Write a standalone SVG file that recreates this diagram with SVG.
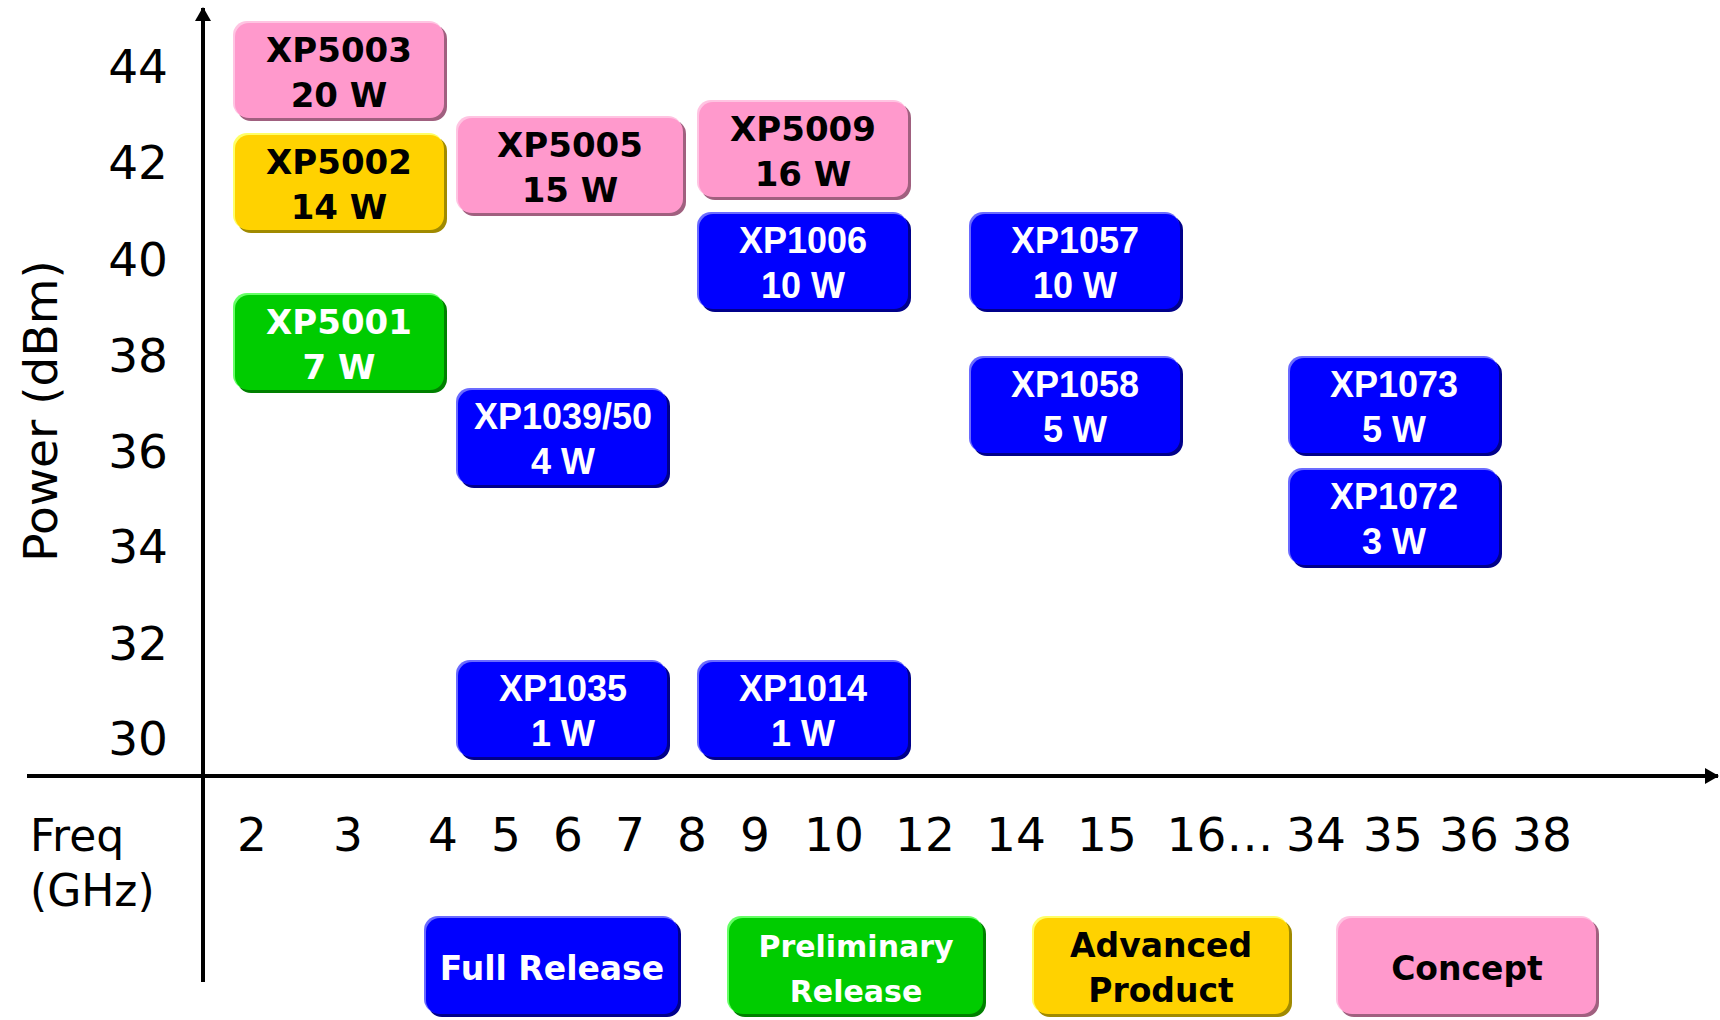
<svg xmlns="http://www.w3.org/2000/svg" width="1720" height="1020" viewBox="0 0 1720 1020">
<style>
.ax{stroke:#000;stroke-width:4;fill:none}
.lab{font-family:"DejaVu Sans",sans-serif;font-size:47px;fill:#000}
.bt{font-family:"DejaVu Sans",sans-serif;font-weight:bold;font-size:34px;text-anchor:middle}
.blue .bt{font-family:"Liberation Sans",Arial,sans-serif;font-size:36px}
.w{fill:#fff}.k{fill:#000}
.blue .m{fill:#0000ff}.blue .h{fill:#6b6bff}.blue .s{fill:#00008a}
.pink .m{fill:#ff99cc}.pink .h{fill:#ffc4e2}.pink .s{fill:#a0607f}
.yel .m{fill:#ffd200}.yel .h{fill:#ffff66}.yel .s{fill:#a08a00}
.grn .m{fill:#00cc00}.grn .h{fill:#66ff66}.grn .s{fill:#008000}
#legend-full .bt{font-family:"DejaVu Sans",sans-serif;font-size:33px}
#legend-prelim .bt{font-size:30px}
#legend-adv .bt,#legend-concept .bt{font-size:33px}
</style>
<defs>
<marker id="ah" viewBox="0 0 14 16" refX="13" refY="8" markerWidth="14" markerHeight="16" orient="auto" markerUnits="userSpaceOnUse"><path d="M0,0 L14,8 L0,16 z" fill="#000"/></marker>
</defs>
<rect width="1720" height="1020" fill="#fff"/>

<g id="connectors">
<line class="ax" x1="203" y1="982" x2="203" y2="8" marker-end="url(#ah)"/>
<line class="ax" x1="27" y1="776" x2="1718" y2="776" marker-end="url(#ah)"/>
</g>

<g id="y-labels" class="lab" text-anchor="end">
<text x="168" y="83">44</text>
<text x="168" y="179">42</text>
<text x="168" y="276">40</text>
<text x="168" y="372">38</text>
<text x="168" y="468">36</text>
<text x="168" y="563">34</text>
<text x="168" y="660">32</text>
<text x="168" y="755">30</text>
</g>
<text class="lab" font-size="48" text-anchor="middle" transform="translate(57,411) rotate(-90)">Power (dBm)</text>

<g id="x-labels" class="lab" text-anchor="middle">
<text x="30" y="851" text-anchor="start" font-size="44">Freq</text>
<text x="30" y="906" text-anchor="start" font-size="44">(GHz)</text>
<text x="252" y="851">2</text>
<text x="348" y="851">3</text>
<text x="443" y="851">4</text>
<text x="506" y="851">5</text>
<text x="568" y="851">6</text>
<text x="630" y="851">7</text>
<text x="692" y="851">8</text>
<text x="755" y="851">9</text>
<text x="834" y="851">10</text>
<text x="925" y="851">12</text>
<text x="1016" y="851">14</text>
<text x="1107" y="851">15</text>
<text x="1220" y="851">16…</text>
<text x="1316" y="851">34</text>
<text x="1393" y="851">35</text>
<text x="1469" y="851">36</text>
<text x="1542" y="851">38</text>
</g>

<g id="XP5003" class="pink">
<rect class="s" x="237" y="25" width="210" height="96" rx="14"/>
<rect class="h" x="233" y="21" width="210" height="96" rx="14"/>
<rect class="m" x="235" y="23" width="209" height="95" rx="14"/>
<text class="bt k" x="339" y="62">XP5003</text><text class="bt k" x="339" y="107">20 W</text>
</g>
<g id="XP5002" class="yel">
<rect class="s" x="237" y="137" width="210" height="96" rx="14"/>
<rect class="h" x="233" y="133" width="210" height="96" rx="14"/>
<rect class="m" x="235" y="135" width="209" height="95" rx="14"/>
<text class="bt k" x="339" y="174">XP5002</text><text class="bt k" x="339" y="219">14 W</text>
</g>
<g id="XP5001" class="grn">
<rect class="s" x="237" y="297" width="210" height="96" rx="14"/>
<rect class="h" x="233" y="293" width="210" height="96" rx="14"/>
<rect class="m" x="235" y="295" width="209" height="95" rx="14"/>
<text class="bt w" x="339" y="334">XP5001</text><text class="bt w" x="339" y="379">7 W</text>
</g>
<g id="XP5005" class="pink">
<rect class="s" x="460" y="120" width="226" height="96" rx="14"/>
<rect class="h" x="456" y="116" width="226" height="96" rx="14"/>
<rect class="m" x="458" y="118" width="225" height="95" rx="14"/>
<text class="bt k" x="570" y="157">XP5005</text><text class="bt k" x="570" y="202">15 W</text>
</g>
<g id="XP1039-50" class="blue">
<rect class="s" x="460" y="392" width="210" height="96" rx="14"/>
<rect class="h" x="456" y="388" width="210" height="96" rx="14"/>
<rect class="m" x="458" y="390" width="209" height="95" rx="14"/>
<text class="bt w" x="563" y="429">XP1039/50</text><text class="bt w" x="563" y="474">4 W</text>
</g>
<g id="XP1035" class="blue">
<rect class="s" x="460" y="664" width="210" height="96" rx="14"/>
<rect class="h" x="456" y="660" width="210" height="96" rx="14"/>
<rect class="m" x="458" y="662" width="209" height="95" rx="14"/>
<text class="bt w" x="563" y="701">XP1035</text><text class="bt w" x="563" y="746">1 W</text>
</g>
<g id="XP5009" class="pink">
<rect class="s" x="701" y="104" width="210" height="96" rx="14"/>
<rect class="h" x="697" y="100" width="210" height="96" rx="14"/>
<rect class="m" x="699" y="102" width="209" height="95" rx="14"/>
<text class="bt k" x="803" y="141">XP5009</text><text class="bt k" x="803" y="186">16 W</text>
</g>
<g id="XP1006" class="blue">
<rect class="s" x="701" y="216" width="210" height="96" rx="14"/>
<rect class="h" x="697" y="212" width="210" height="96" rx="14"/>
<rect class="m" x="699" y="214" width="209" height="95" rx="14"/>
<text class="bt w" x="803" y="253">XP1006</text><text class="bt w" x="803" y="298">10 W</text>
</g>
<g id="XP1014" class="blue">
<rect class="s" x="701" y="664" width="210" height="96" rx="14"/>
<rect class="h" x="697" y="660" width="210" height="96" rx="14"/>
<rect class="m" x="699" y="662" width="209" height="95" rx="14"/>
<text class="bt w" x="803" y="701">XP1014</text><text class="bt w" x="803" y="746">1 W</text>
</g>
<g id="XP1057" class="blue">
<rect class="s" x="973" y="216" width="210" height="96" rx="14"/>
<rect class="h" x="969" y="212" width="210" height="96" rx="14"/>
<rect class="m" x="971" y="214" width="209" height="95" rx="14"/>
<text class="bt w" x="1075" y="253">XP1057</text><text class="bt w" x="1075" y="298">10 W</text>
</g>
<g id="XP1058" class="blue">
<rect class="s" x="973" y="360" width="210" height="96" rx="14"/>
<rect class="h" x="969" y="356" width="210" height="96" rx="14"/>
<rect class="m" x="971" y="358" width="209" height="95" rx="14"/>
<text class="bt w" x="1075" y="397">XP1058</text><text class="bt w" x="1075" y="442">5 W</text>
</g>
<g id="XP1073" class="blue">
<rect class="s" x="1292" y="360" width="210" height="96" rx="14"/>
<rect class="h" x="1288" y="356" width="210" height="96" rx="14"/>
<rect class="m" x="1290" y="358" width="209" height="95" rx="14"/>
<text class="bt w" x="1394" y="397">XP1073</text><text class="bt w" x="1394" y="442">5 W</text>
</g>
<g id="XP1072" class="blue">
<rect class="s" x="1292" y="472" width="210" height="96" rx="14"/>
<rect class="h" x="1288" y="468" width="210" height="96" rx="14"/>
<rect class="m" x="1290" y="470" width="209" height="95" rx="14"/>
<text class="bt w" x="1394" y="509">XP1072</text><text class="bt w" x="1394" y="554">3 W</text>
</g>

<g id="legend-full" class="blue">
<rect class="s" x="428" y="920" width="253" height="97" rx="14"/>
<rect class="h" x="424" y="916" width="253" height="97" rx="14"/>
<rect class="m" x="426" y="918" width="252" height="96" rx="14"/>
<text class="bt w" x="552" y="980">Full Release</text>
</g>
<g id="legend-prelim" class="grn">
<rect class="s" x="731" y="920" width="255" height="97" rx="14"/>
<rect class="h" x="727" y="916" width="255" height="97" rx="14"/>
<rect class="m" x="729" y="918" width="254" height="96" rx="14"/>
<text class="bt w" x="856" y="957">Preliminary</text><text class="bt w" x="856" y="1002">Release</text>
</g>
<g id="legend-adv" class="yel">
<rect class="s" x="1036" y="920" width="256" height="97" rx="14"/>
<rect class="h" x="1032" y="916" width="256" height="97" rx="14"/>
<rect class="m" x="1034" y="918" width="255" height="96" rx="14"/>
<text class="bt k" x="1161" y="957">Advanced</text><text class="bt k" x="1161" y="1002">Product</text>
</g>
<g id="legend-concept" class="pink">
<rect class="s" x="1340" y="920" width="259" height="97" rx="14"/>
<rect class="h" x="1336" y="916" width="259" height="97" rx="14"/>
<rect class="m" x="1338" y="918" width="258" height="96" rx="14"/>
<text class="bt k" x="1467" y="980">Concept</text>
</g>
</svg>
